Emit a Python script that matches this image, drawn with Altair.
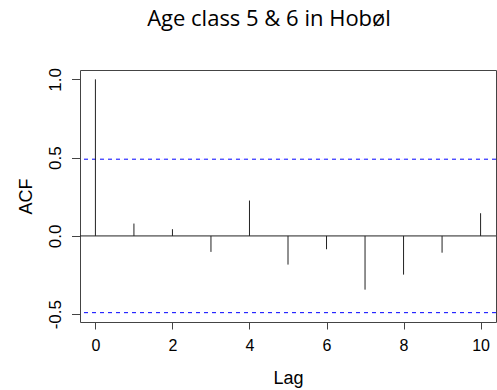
import altair as alt
import pandas as pd

# Data
lags = [0, 1, 2, 3, 4, 5, 6, 7, 8, 9, 10]
acf_values = [1.0, 0.079, 0.043, -0.102, 0.226, -0.183, -0.085, -0.343, -0.247, -0.107, 0.145]
conf_limits = [0.49, -0.49]
zero_level = [0.0]
x_ticks = [0, 2, 4, 6, 8, 10]
y_ticks = [-0.5, 0.0, 0.5, 1.0]

bars_df = pd.DataFrame({"lag": lags, "acf": acf_values, "base": [0.0] * len(lags)})
conf_df = pd.DataFrame({"y": conf_limits})
zero_df = pd.DataFrame({"y": zero_level})

AX_FONT = "Liberation Sans"

x_scale = alt.Scale(domain=[-0.4, 10.4], nice=False, zero=False)
y_scale = alt.Scale(domain=[-0.5496, 1.0596], nice=False, zero=False)

x_axis = alt.Axis(
    values=x_ticks, title="Lag", domain=False, grid=False,
    tickSize=7, tickColor="#444", tickWidth=1,
    labelFont=AX_FONT, labelFontSize=16, labelColor="black",
    labelBaseline="alphabetic", labelPadding=21, labelFlush=False,
    titleFont=AX_FONT, titleFontSize=18, titleFontWeight="normal", titleColor="black",
    titleX=208, titleY=61, titleAlign="center", titleBaseline="alphabetic",
)
y_axis = alt.Axis(
    values=y_ticks, title="ACF", domain=False, grid=False,
    labelExpr="replace(format(datum.value, '.1f'), '\u2212', '-')",
    tickSize=8.5, tickColor="#444", tickWidth=1,
    labelFont=AX_FONT, labelFontSize=17, labelColor="black",
    labelAngle=-90, labelAlign="center", labelBaseline="alphabetic", labelPadding=11.5,
    labelFlush=False, labelOverlap=False,
    titleFont=AX_FONT, titleFontSize=18, titleFontWeight="normal", titleColor="black",
    titleAngle=270, titleX=-49, titleY=126, titleAlign="center", titleBaseline="alphabetic",
)

bars = alt.Chart(bars_df).mark_rule(color="#222", strokeWidth=1).encode(
    x=alt.X("lag:Q", scale=x_scale, axis=x_axis),
    y=alt.Y("base:Q", scale=y_scale, axis=y_axis),
    y2="acf:Q",
)

zero = alt.Chart(zero_df).mark_rule(color="#222", strokeWidth=1).encode(
    y=alt.Y("y:Q", scale=y_scale),
)

conf = alt.Chart(conf_df).mark_rule(color="blue", strokeWidth=1, strokeDash=[4, 4]).encode(
    y=alt.Y("y:Q", scale=y_scale),
)

chart = (
    alt.layer(conf, zero, bars)
    .properties(
        width=416,
        height=252,
        autosize=alt.AutoSizeParams(type="none"),
        padding={"left": 80, "top": 70, "right": 1, "bottom": 68},
        title=alt.TitleParams(
            "Age class 5 & 6 in Hobøl",
            font="Open Sans", fontSize=22, fontWeight="normal", color="black",
            anchor="middle", dx=-19, baseline="alphabetic", offset=20,
        ),
        background="white",
    )
    .configure_view(stroke="#444", strokeWidth=1)
)

chart.save("out.html", embed_options={"renderer": "svg", "actions": False})
